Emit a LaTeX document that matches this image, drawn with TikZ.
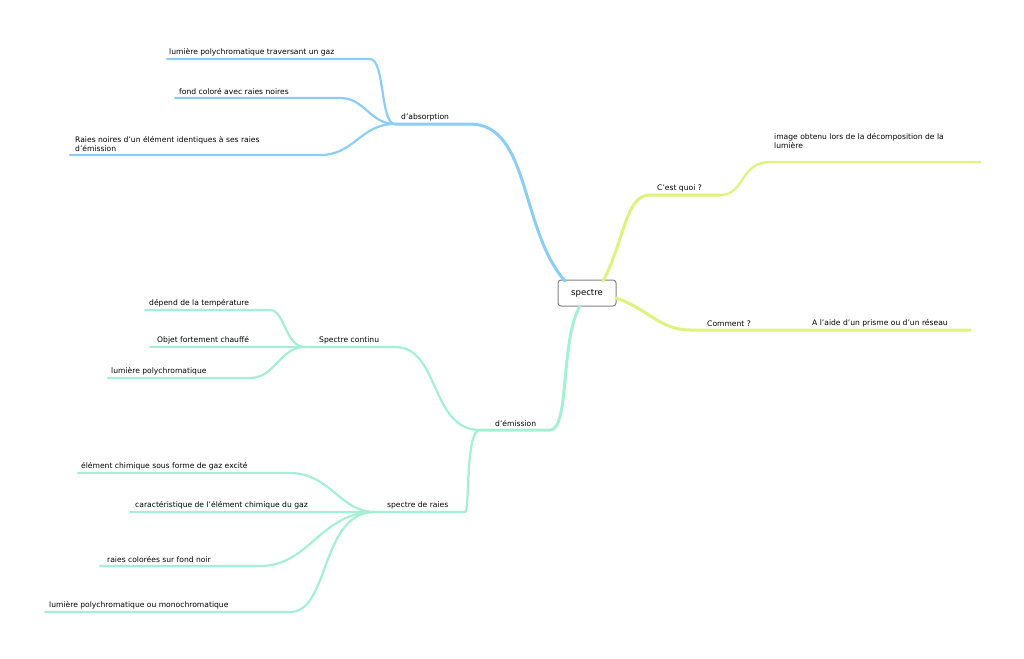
\documentclass[tikz,border=0pt]{standalone}
\usepackage{fontspec}
\setmainfont{DejaVu Sans}
\begin{document}
\begin{tikzpicture}[x=1pt,y=-1pt,
  lbl/.style={anchor=south west,inner sep=1pt,font=\fontsize{7.6}{9}\selectfont,align=left},
  bl/.style={draw={rgb,255:red,140;green,205;blue,245},line width=2.2pt,line cap=round},
  yl/.style={draw={rgb,255:red,222;green,242;blue,125},line width=2.2pt,line cap=round},
  gr/.style={draw={rgb,255:red,165;green,240;blue,212},line width=2.2pt,line cap=round},
  thick2/.style={line width=3pt}]
\useasboundingbox (0,0) rectangle (1024,658);
% centre
\node[draw={rgb,255:red,130;green,130;blue,130},line width=1pt,rounded corners=3pt,fill=white,minimum width=58pt,minimum height=26pt,font=\fontsize{8.5}{10}\selectfont] (c) at (587,293) {spectre};
% coordinates
\coordinate (ab) at (470,124); \coordinate (ab0) at (395,124);
\coordinate (q) at (720,195); \coordinate (q0) at (650,195);
\coordinate (cm) at (690,330);
\coordinate (em) at (550,430); \coordinate (em0) at (480,430);
\coordinate (sc) at (395,347); \coordinate (sc0) at (305,347);
\coordinate (sr) at (465,512); \coordinate (sr0) at (375,512);
% blue
\begin{scope}[bl]
\draw[thick2] (565,281) .. controls (520,230) and (530,124) .. (ab) -- (ab0);
\draw (ab0) .. controls (380,124) and (385,59) .. (370,59) coordinate (a1) -- (167,59);
\draw (ab0) .. controls (370,124) and (365,98) .. (340,98) coordinate (a2) -- (175,98);
\draw (ab0) .. controls (360,124) and (355,155) .. (320,155) coordinate (a3) -- (70,155);
\end{scope}
\node[lbl] (tab) at (400,122) {d'absorption};
\node[lbl] (t1) at (168,57) {lumière polychromatique traversant un gaz};
\node[lbl] (t2) at (178,96) {fond coloré avec raies noires};
\node[lbl] (t3) at (74,153) {Raies noires d'un élément identiques à ses raies\\d'émission};
% yellow
\begin{scope}[yl]
\draw[thick2] (603,281) .. controls (625,240) and (625,195) .. (q0) -- (q);
\draw (q) .. controls (745,195) and (740,162) .. (770,162) -- (980,162);
\draw[thick2] (616,298) .. controls (650,310) and (660,330) .. (cm) -- (970,330);
\end{scope}
\node[lbl] (tq) at (656,193) {C'est quoi ?};
\node[lbl] (tq1) at (773,150) {image obtenu lors de la décomposition de la\\lumière};
\node[lbl] (tc) at (706,328) {Comment ?};
\node[lbl] (tc1) at (811,328) {A l'aide d'un prisme ou d'un réseau};
% green
\begin{scope}[gr]
\draw[thick2] (580,306) .. controls (560,340) and (570,430) .. (em) -- (em0);
\draw (em0) .. controls (430,430) and (440,347) .. (sc) -- (sc0);
\draw (em0) .. controls (465,430) and (470,512) .. (sr) -- (sr0);
\draw (sc0) .. controls (285,347) and (285,310) .. (270,310) -- (145,310);
\draw (sc0) -- (150,347);
\draw (sc0) .. controls (280,347) and (275,378) .. (250,378) -- (108,378);
\draw (sr0) .. controls (340,512) and (330,473) .. (290,473) -- (78,473);
\draw (sr0) -- (130,512);
\draw (sr0) .. controls (320,512) and (310,566) .. (260,566) -- (100,566);
\draw (sr0) .. controls (320,512) and (330,612) .. (290,612) -- (45,612);
\end{scope}
\node[lbl] (tem) at (494,428) {d'émission};
\node[lbl] (tsc) at (318,345) {Spectre continu};
\node[lbl] (tsr) at (386,510) {spectre de raies};
\node[lbl] (g1) at (148,308) {dépend de la température};
\node[lbl] (g2) at (156,345) {Objet fortement chauffé};
\node[lbl] (g3) at (110,376) {lumière polychromatique};
\node[lbl] (g4) at (80,471) {élément chimique sous forme de gaz excité};
\node[lbl] (g5) at (134,510) {caractéristique de l'élément chimique du gaz};
\node[lbl] (g6) at (106,564) {raies colorées sur fond noir};
\node[lbl] (g7) at (48,610) {lumière polychromatique ou monochromatique};
\end{tikzpicture}
\end{document}
